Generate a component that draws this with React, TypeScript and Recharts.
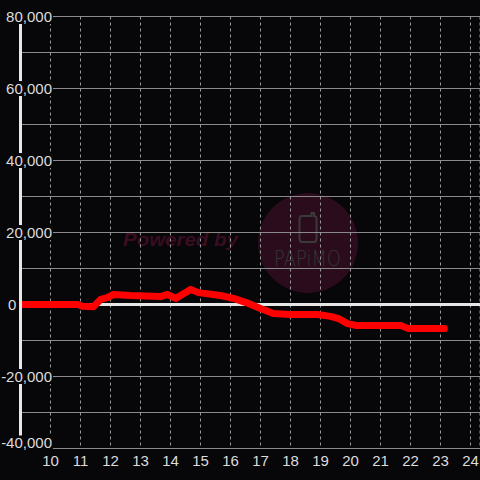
import React from 'react';
import { LineChart, Line, XAxis, YAxis, CartesianGrid, ReferenceLine } from 'recharts';

const hours = [9, 10.9, 11.07, 11.43, 11.67, 11.9, 12.1, 12.67, 13.67, 13.9, 14.17, 14.67, 14.93, 15.67, 16.1, 16.6, 17.0, 17.43, 18.0, 18.9, 19.33, 19.6, 19.9, 20.17, 21.67, 21.93, 23.13];
const values = [0, 0, -500, -600, 1400, 1900, 2800, 2500, 2200, 2800, 1700, 4200, 3300, 2500, 1700, 300, -1100, -2500, -2800, -2800, -3300, -3900, -5300, -5800, -5800, -6700, -6700];
const xTicks = [10, 11, 12, 13, 14, 15, 16, 17, 18, 19, 20, 21, 22, 23, 24];
const yTicks = [-40000, -30000, -20000, -10000, 0, 10000, 20000, 30000, 40000, 50000, 60000, 70000, 80000];

const data = hours.map((h, i) => ({ h, v: values[i] }));

const BG = '#070609';
const FONT = '"Liberation Sans", Arial, sans-serif';
const LABEL = '#dcdcdc';

const YTick = (props: any) => {
  const { y, payload } = props;
  const v = Number(payload.value);
  if (v % 20000 !== 0) return <g />;
  if (v === 0) {
    return (
      <text x={8} y={y + 5.4} fill={LABEL} fontSize={15} fontFamily={FONT}>
        0
      </text>
    );
  }
  const cy = v === -40000 ? y - 5.5 : y;
  return (
    <g>
      <rect x={2} y={cy - 7.5} width={51} height={15} fill={BG} />
      <text x={52} y={cy + 5.4} textAnchor="end" fill={LABEL} fontSize={15} fontFamily={FONT}>
        {v.toLocaleString('en-US')}
      </text>
    </g>
  );
};

const XTick = (props: any) => {
  const { x, payload } = props;
  return (
    <text x={x} y={466} textAnchor="middle" fill={LABEL} fontSize={15} fontFamily={FONT}>
      {payload.value}
    </text>
  );
};

export default function App() {
  return (
    <div style={{ position: 'absolute', left: 0, top: 0, width: 480, height: 480, background: BG }}>
      <svg width={480} height={480} style={{ position: 'absolute', left: 0, top: 0 }}>
        <circle cx={308} cy={243} r={50} fill="#2b0c1d" />
        <text
          x={123}
          y={246}
          fontStyle="italic"
          fontWeight="bold"
          fontSize={19}
          fontFamily={FONT}
          fill="#3a0d21"
          textLength={115}
          lengthAdjust="spacingAndGlyphs"
        >
          Powered by
        </text>
        <path
          d="M302 216 L311.5 216 L311.5 213 L314 213 L314 216 Q316.5 216 316.5 219 L316.5 239 Q316.5 242 313.5 242 L302.5 242 Q299.5 242 299.5 239 L299.5 219 Q299.5 216 302 216 Z"
          fill="none"
          stroke="#3a3a3a"
          strokeWidth={2}
        />
        <text
          x={274}
          y={266}
          fontSize={21}
          fontWeight={200}
          fontFamily='"DejaVu Sans", sans-serif'
          fill="#363636"
          textLength={67}
          lengthAdjust="spacingAndGlyphs"
        >
          PAPiMO
        </text>
      </svg>
      <div style={{ position: 'absolute', left: 0, top: 0 }}>
        <LineChart width={480} height={480} data={data} margin={{ top: 16.5, right: 0, bottom: 0, left: 0 }}>
          <CartesianGrid vertical={false} stroke="#8a8a8a" />
          <CartesianGrid horizontal={false} stroke="#9a9a9a" strokeDasharray="3 3" />
          <XAxis
            type="number"
            dataKey="h"
            domain={[9, 24.3167]}
            ticks={xTicks}
            interval={0}
            axisLine={false}
            tickLine={false}
            height={31.5}
            tick={(p: any) => <XTick {...p} />}
            allowDataOverflow
          />
          <YAxis
            type="number"
            domain={[-40000, 80000]}
            ticks={yTicks}
            interval={0}
            width={20.5}
            axisLine={{ stroke: '#e8e8e8', strokeWidth: 3 }}
            tickLine={false}
            tick={(p: any) => <YTick {...p} />}
            allowDataOverflow
          />
          <ReferenceLine y={0} stroke="#e6e6e6" strokeWidth={3} />
          <Line
            dataKey="v"
            type="linear"
            stroke="#ff0000"
            strokeWidth={7}
            strokeLinejoin="round"
            strokeLinecap="round"
            dot={false}
            activeDot={false}
            isAnimationActive={false}
          />
        </LineChart>
      </div>
    </div>
  );
}
